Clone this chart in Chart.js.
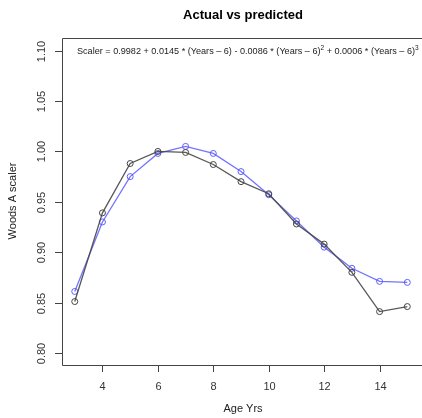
<!DOCTYPE html>
<html>
<head>
<meta charset="utf-8">
<script src="https://cdn.jsdelivr.net/npm/chart.js@4"></script>
<style>
  html, body { margin: 0; padding: 0; background: #fff; }
  #wrap { width: 422px; height: 418px; }
</style>
</head>
<body>
<div id="wrap"><canvas id="fitChart"></canvas></div>
<script>
// values
const ages = [3, 4, 5, 6, 7, 8, 9, 10, 11, 12, 13, 14, 15];
const actual = [0.851, 0.939, 0.988, 1.000, 0.999, 0.987, 0.970, 0.958, 0.928, 0.908, 0.880, 0.841, 0.846];
const predicted = [0.861, 0.930, 0.975, 0.998, 1.005, 0.998, 0.980, 0.957, 0.931, 0.905, 0.884, 0.871, 0.870];
const xTicks = [4, 6, 8, 10, 12, 14];
const yTicks = [0.80, 0.85, 0.90, 0.95, 1.00, 1.05, 1.10];

const FONT = '"Liberation Sans", Arial, Helvetica, sans-serif';

// R-style frame, ticks, labels and the fit formula
const rFrame = {
    id: 'rFrame',
    afterDraw(chart) {
        const ctx = chart.ctx;
        const a = chart.chartArea;
        const xs = chart.scales.x, ys = chart.scales.y;
        ctx.save();
        ctx.strokeStyle = '#444';
        ctx.lineWidth = 1;
        ctx.beginPath();
        ctx.moveTo(a.right + 5, a.top + 0.5);
        ctx.lineTo(a.left + 0.5, a.top + 0.5);
        ctx.lineTo(a.left + 0.5, a.bottom + 0.5);
        ctx.lineTo(a.right + 5, a.bottom + 0.5);
        ctx.stroke();

        ctx.fillStyle = '#333';
        ctx.font = '11px ' + FONT;
        // x ticks
        ctx.textAlign = 'center';
        ctx.textBaseline = 'top';
        xTicks.forEach(v => {
            const px = Math.round(xs.getPixelForValue(v)) + 0.5;
            ctx.beginPath();
            ctx.moveTo(px, a.bottom);
            ctx.lineTo(px, a.bottom + 7);
            ctx.stroke();
            ctx.fillText(String(v), px, a.bottom + 16);
        });
        // y ticks, labels rotated
        yTicks.forEach(v => {
            const py = Math.round(ys.getPixelForValue(v)) + 0.5;
            ctx.beginPath();
            ctx.moveTo(a.left, py);
            ctx.lineTo(a.left - 7, py);
            ctx.stroke();
            ctx.save();
            ctx.translate(a.left - 15, py);
            ctx.rotate(-Math.PI / 2);
            ctx.textBaseline = 'bottom';
            ctx.fillText(v.toFixed(2), 0, 0);
            ctx.restore();
        });

        // axis titles
        ctx.fillStyle = '#222';
        ctx.textBaseline = 'alphabetic';
        ctx.fillText('Age Yrs', 243, 412);
        ctx.save();
        ctx.translate(16, 201);
        ctx.rotate(-Math.PI / 2);
        ctx.fillText('Woods A scaler', 0, 0);
        ctx.restore();

        // main title
        ctx.font = 'bold 13px ' + FONT;
        ctx.fillStyle = '#000';
        ctx.fillText('Actual vs predicted', 243, 19);

        // formula
        const parts = [
            ['Scaler = 0.9982 + 0.0145 * (Years \u2013 6) - 0.0086 * (Years \u2013 6)', false],
            ['2', true],
            [' + 0.0006 * (Years \u2013 6)', false],
            ['3', true]
        ];
        ctx.textAlign = 'left';
        ctx.fillStyle = '#222';
        let x = 77;
        const base = 54;
        parts.forEach(([t, sup]) => {
            ctx.font = (sup ? '6.5px ' : '9.1px ') + FONT;
            ctx.fillText(t, x, sup ? base - 4 : base);
            x += ctx.measureText(t).width;
        });
        ctx.restore();
    }
};

new Chart(document.getElementById('fitChart'), {
    type: 'line',
    data: {
        labels: ages,
        datasets: [{
            label: 'Actual',
            data: ages.map((a, i) => ({ x: a, y: actual[i] })),
            borderColor: 'rgba(70,70,70,0.9)',
            borderWidth: 1.3,
            pointRadius: 3,
            pointBorderWidth: 1,
            pointBorderColor: '#444444',
            pointBackgroundColor: 'rgba(0,0,0,0)',
            tension: 0,
            fill: false
        }, {
            label: 'Predicted',
            data: ages.map((a, i) => ({ x: a, y: predicted[i] })),
            borderColor: 'rgba(80,80,255,0.8)',
            borderWidth: 1.3,
            pointRadius: 3,
            pointBorderWidth: 1,
            pointBorderColor: 'rgba(80,80,255,0.9)',
            pointBackgroundColor: 'rgba(0,0,0,0)',
            tension: 0,
            fill: false
        }]
    },
    options: {
        responsive: true,
        maintainAspectRatio: false,
        animation: false,
        layout: { padding: { left: 62, top: 38, right: 0, bottom: 53 } },
        plugins: { legend: { display: false }, tooltip: { enabled: false } },
        scales: {
            x: { type: 'linear', min: 2.54, max: 15.35, display: false },
            y: { type: 'linear', min: 0.788, max: 1.1126, display: false }
        }
    },
    plugins: [rFrame]
});
</script>
</body>
</html>
